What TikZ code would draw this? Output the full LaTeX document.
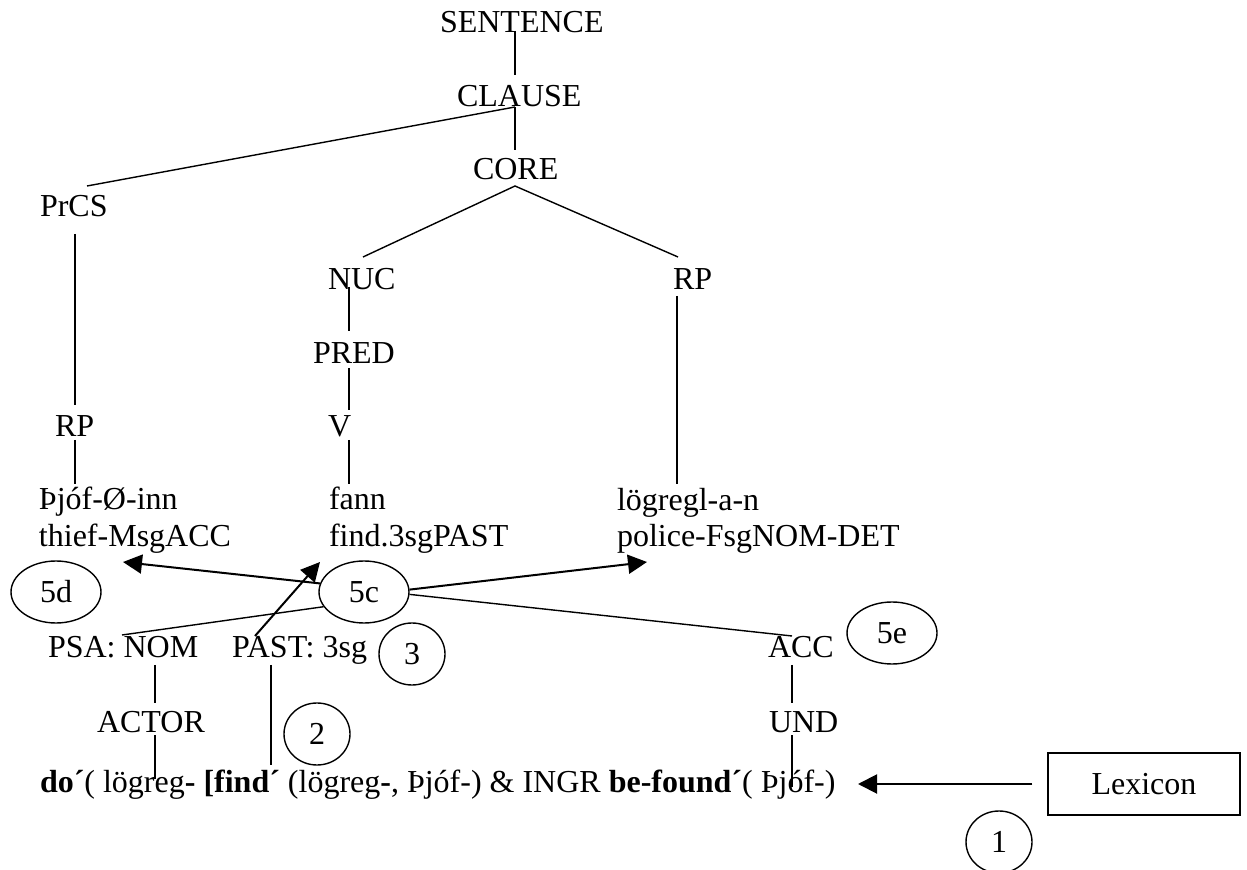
\documentclass[tikz,border=0pt]{standalone}
\usepackage{fontspec}
\setmainfont{Liberation Serif}
\usetikzlibrary{shapes.geometric,arrows.meta}
\begin{document}
\begin{tikzpicture}[x=0.5pt,y=-0.5pt,
  lbl/.style={anchor=base west,inner sep=0pt,outer sep=0pt,font=\fontsize{16}{19}\selectfont},
  tl/.style={line width=0.7pt},
  arr/.style={line width=1pt,-{Triangle[length=9.5pt,width=9.5pt]}},
  oval/.style={draw,ellipse,line width=0.7pt,inner sep=0pt,font=\fontsize{16}{19}\selectfont},
  bigoval/.style={oval,minimum width=45pt,minimum height=31pt},
  numoval/.style={oval,minimum width=33pt,minimum height=31pt},
  lexbox/.style={draw,rectangle,line width=0.7pt,inner sep=0pt,minimum width=96pt,minimum height=31pt,font=\fontsize{16}{19}\selectfont}
]
\useasboundingbox (0,0) rectangle (1247,870);

% tree labels
\node[lbl] (sent) at (440,33) {SENTENCE};
\node[lbl] (clause) at (457,107) {CLAUSE};
\node[lbl] (core) at (473,180) {CORE};
\node[lbl] (prcs) at (40,217) {PrCS};
\node[lbl] (nuc) at (328,290) {NUC};
\node[lbl] (rpr) at (673,290) {RP};
\node[lbl] (pred) at (313,364) {PRED};
\node[lbl] (rpl) at (55,437) {RP};
\node[lbl] (v) at (328,437) {V};
\node[lbl] (thjof) at (39,510) {Þjóf-Ø-inn};
\node[lbl] (thief) at (39,547) {thief-MsgACC};
\node[lbl] (fann) at (329,510) {fann};
\node[lbl] (find) at (329,547) {find.3sgPAST};
\node[lbl] (logr) at (617,511) {lögregl-a-n};
\node[lbl] (police) at (617,547) {police-FsgNOM-DET};
\node[lbl] (psa) at (48,658) {PSA: NOM};
\node[lbl] (past) at (232,658) {PAST: 3sg};
\node[lbl] (acc) at (768,658) {ACC};
\node[lbl] (actor) at (97,733) {ACTOR};
\node[lbl] (und) at (769,733) {UND};
\node[lbl] (formula) at (40,792) {\textbf{do´}( lögreg\textbf{- [find´} (lögreg\textbf{-}, Þjóf-) \& INGR \textbf{be-found´}( Þjóf-)};

% ovals and box
\node[bigoval] (c5d) at (56,592) {5d};
\node[bigoval] (c5c) at (364,592) {5c};
\node[bigoval] (c5e) at (892,633) {5e};
\node[numoval] (c3) at (412,654) {3};
\node[numoval] (c2) at (317,734) {2};
\node[numoval] (c1) at (999,842) {1};
\node[lexbox] (lex) at (1144,784) {Lexicon};

% line end points
\coordinate (sentB) at (515,31);
\coordinate (clauseT) at (515,75);
\coordinate (clauseB) at (515,107);
\coordinate (coreT) at (515,150);
\coordinate (prcsT) at (87,186);
\coordinate (coreB) at (515,186);
\coordinate (nucT) at (363,257);
\coordinate (rprT) at (678,257);
\coordinate (prcsB) at (75,234);
\coordinate (rplT) at (75,405);
\coordinate (rplB) at (75,440);
\coordinate (thjofT) at (75,484);
\coordinate (nucB) at (349,287);
\coordinate (predT) at (349,331);
\coordinate (predB) at (349,368);
\coordinate (vT) at (349,410);
\coordinate (vB) at (349,440);
\coordinate (fannT) at (349,484);
\coordinate (rprB) at (677,296);
\coordinate (logrT) at (677,484);
\coordinate (psaB) at (155,665);
\coordinate (actorT) at (155,703);
\coordinate (actorB) at (155,735);
\coordinate (formA) at (155,779);
\coordinate (pastB) at (271,665);
\coordinate (formP) at (271,765);
\coordinate (accB) at (792,665);
\coordinate (undT) at (792,703);
\coordinate (undB) at (792,735);
\coordinate (formU) at (792,787);
\coordinate (accT) at (792,636);
\coordinate (psaT) at (122,635);
\coordinate (pastT) at (255,636);
\coordinate (fannTip) at (320,562);
\coordinate (thiefTip) at (123,562);
\coordinate (policeTip) at (647,562);
\coordinate (formEnd) at (858,784);

% tree lines
\draw[tl] (sentB) -- (clauseT);
\draw[tl] (clauseB) -- (coreT);
\draw[tl] (clauseB) -- (prcsT);
\draw[tl] (nucT) -- (coreB) -- (rprT);
\draw[tl] (prcsB) -- (rplT);
\draw[tl] (rplB) -- (thjofT);
\draw[tl] (nucB) -- (predT);
\draw[tl] (predB) -- (vT);
\draw[tl] (vB) -- (fannT);
\draw[tl] (rprB) -- (logrT);
\draw[tl] (psaB) -- (actorT);
\draw[tl] (actorB) -- (formA);
\draw[tl] (pastB) -- (formP);
\draw[tl] (accB) -- (undT);
\draw[tl] (undB) -- (formU);

% linking lines
\draw[tl] (c5c.-3) -- (accT);
\draw[tl] (c5c.200) -- (psaT);
\draw[arr] (pastT) -- (fannTip);
\draw[arr] (c5c.169) -- (thiefTip);
\draw[arr] (c5c.3) -- (policeTip);
\draw[arr] ([xshift=-7.5pt]lex.west) -- (formEnd);
\end{tikzpicture}
\end{document}
